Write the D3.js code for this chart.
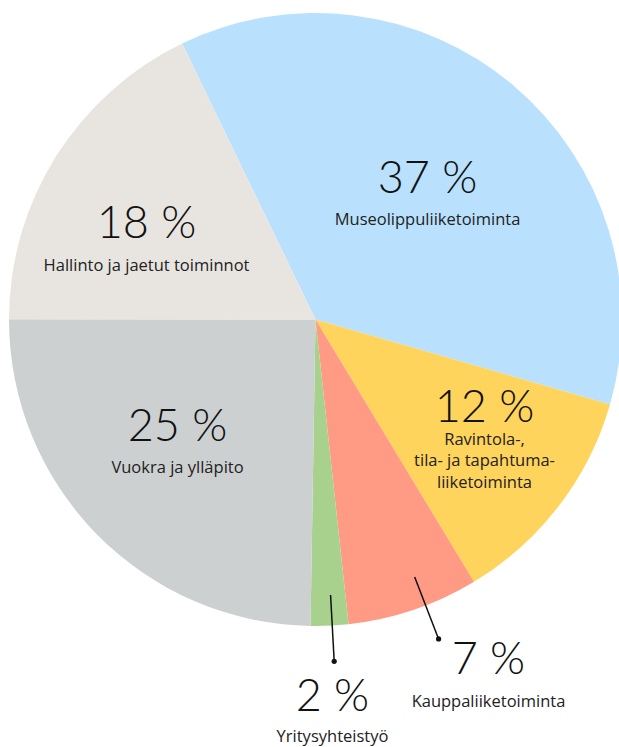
<!DOCTYPE html>
<html>
<head>
<meta charset="utf-8">
<script src="https://cdn.jsdelivr.net/npm/d3@7"></script>
<style>
  html, body { margin: 0; padding: 0; background: #fff; }
  svg { display: block; }
</style>
</head>
<body>
<div class="chartHolder"></div>
<script>
// data
var categories = ["Museolippuliiketoiminta", "Ravintola-, tila- ja tapahtumaliiketoiminta", "Kauppaliiketoiminta",
                  "Yritysyhteistyö", "Vuokra ja ylläpito", "Hallinto ja jaetut toiminnot"];
var values = [37, 12, 7, 2, 25, 18];
var labelLines = [
  ["Museolippuliiketoiminta"],
  ["Ravintola-,", "tila- ja tapahtuma-", "liiketoiminta"],
  ["Kauppaliiketoiminta"],
  ["Yritysyhteistyö"],
  ["Vuokra ja ylläpito"],
  ["Hallinto ja jaetut toiminnot"]
];
var colors = ["#b9e1fd", "#ffd45c", "#ff9b85", "#a9d18e", "#cdd0d1", "#e8e5e1"];

var svgW = 619, svgH = 747;
var cx = 315.5, cy = 319.5, radius = 306.5;
var startDeg = -25.8;

// label layout: offset of the number baseline (centre) from the pie centre,
// and the gap from the number baseline to the first caption line
var labelPos = [[112, -127], [169, 102], [173, 354], [17, 391], [-138, 121], [-169, -82]];
var captionGap = [32, 23, 33, 31, 32, 33];
var leaders = [null, null, { da: -2.4 }, { da: -0.5 }, null, null];

var svg = d3.select(".chartHolder").append("svg").attr("width", svgW).attr("height", svgH);
var g = svg.append("g").attr("transform", "translate(" + cx + "," + cy + ")");

var pie = d3.pie().sort(null).value(function (d) { return d; })
  .startAngle(startDeg * Math.PI / 180)
  .endAngle(startDeg * Math.PI / 180 + 2 * Math.PI);
var arcs = pie(values);

var arc = d3.arc().innerRadius(0).outerRadius(radius);

g.selectAll("path.slice").data(arcs).enter().append("path")
  .attr("class", "slice")
  .attr("d", arc)
  .attr("fill", function (d, i) { return colors[i]; });

// leader lines for the small slices
arcs.forEach(function (d, i) {
  if (!leaders[i]) return;
  var a = (d.startAngle + d.endAngle) / 2 + leaders[i].da * Math.PI / 180;
  var r0 = radius * 0.9, r1 = radius * 1.117;
  var x0 = Math.sin(a) * r0, y0 = -Math.cos(a) * r0;
  var x1 = Math.sin(a) * r1, y1 = -Math.cos(a) * r1;
  g.append("line").attr("x1", x0).attr("y1", y0).attr("x2", x1).attr("y2", y1)
    .attr("stroke", "#111").attr("stroke-width", 1.5);
  g.append("circle").attr("cx", x1).attr("cy", y1).attr("r", 2.6).attr("fill", "#111");
});

var lg = g.selectAll("g.label").data(arcs).enter().append("g")
  .attr("class", "label")
  .attr("transform", function (d, i) { return "translate(" + labelPos[i][0] + "," + labelPos[i][1] + ")"; });

lg.append("text")
  .attr("text-anchor", "middle")
  .attr("font-family", "Lato, 'Open Sans', sans-serif")
  .attr("font-weight", 300)
  .attr("font-size", 45)
  .attr("fill", "#111")
  .text(function (d) { return d.data + " %"; });

lg.each(function (d, i) {
  var sel = d3.select(this);
  labelLines[i].forEach(function (line, j) {
    sel.append("text")
      .attr("text-anchor", "middle")
      .attr("y", captionGap[i] + j * 21.5)
      .attr("font-family", "'Open Sans', 'Noto Sans', sans-serif")
      .attr("font-size", 16.5)
      .attr("fill", "#222")
      .text(line);
  });
});
</script>
</body>
</html>
